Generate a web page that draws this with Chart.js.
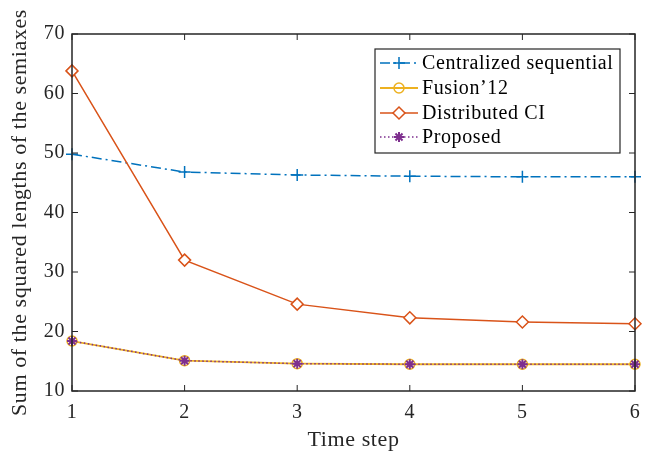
<!DOCTYPE html>
<html>
<head>
<meta charset="utf-8">
<script src="https://cdn.jsdelivr.net/npm/chart.js@4.4.1/dist/chart.umd.min.js"></script>
<style>
  html, body { margin: 0; padding: 0; background: #fff; }
  #wrap { width: 657px; height: 455px; }
</style>
</head>
<body>
<div id="wrap"><canvas id="chart" width="657" height="455"></canvas></div>
<script>
const timeSteps = ['1', '2', '3', '4', '5', '6'];
const yTicks = [10, 20, 30, 40, 50, 60, 70];

const centralized = [49.8, 46.8, 46.3, 46.1, 46.0, 46.0];
const fusion12 = [18.4, 15.1, 14.6, 14.5, 14.5, 14.5];
const distributedCI = [63.8, 32.0, 24.6, 22.3, 21.6, 21.3];
const proposed = [18.4, 15.1, 14.6, 14.5, 14.5, 14.5];

const FONT = "'Liberation Serif', 'Times New Roman', serif";
const AXIS = '#262626';

// wider spacing so the Times-like font fills the space of the original
const spacingPlugin = {
    id: 'spacing',
    beforeDraw(chart) { chart.ctx.letterSpacing = '0.6px'; }
};

// MATLAB-style box with inward ticks
const boxPlugin = {
    id: 'box',
    afterDatasetsDraw(chart) {
        const { ctx, chartArea: a, scales } = chart;
        ctx.save();
        ctx.strokeStyle = AXIS;
        ctx.lineWidth = 1.5;
        ctx.strokeRect(a.left, a.top, a.right - a.left, a.bottom - a.top);
        ctx.lineWidth = 1;
        ctx.beginPath();
        const len = 6;
        timeSteps.forEach((t, i) => {
            const x = scales.x.getPixelForValue(i);
            ctx.moveTo(x, a.bottom); ctx.lineTo(x, a.bottom - len);
            ctx.moveTo(x, a.top); ctx.lineTo(x, a.top + len);
        });
        yTicks.forEach(v => {
            const y = scales.y.getPixelForValue(v);
            ctx.moveTo(a.left, y); ctx.lineTo(a.left + len, y);
            ctx.moveTo(a.right, y); ctx.lineTo(a.right - len, y);
        });
        ctx.stroke();
        ctx.restore();
    }
};

// legend box in upper right, drawn from the dataset styles
const legendPlugin = {
    id: 'boxLegend',
    afterDraw(chart) {
        const { ctx } = chart;
        const left = 375, top = 49, w = 245, h = 104;
        ctx.save();
        ctx.fillStyle = '#fff';
        ctx.fillRect(left, top, w, h);
        ctx.strokeStyle = AXIS;
        ctx.lineWidth = 1.2;
        ctx.strokeRect(left, top, w, h);
        const rows = [63, 88, 113, 137];
        chart.data.datasets.forEach((ds, i) => {
            const y = rows[i];
            ctx.save();
            ctx.strokeStyle = ds.borderColor;
            ctx.lineWidth = ds.borderWidth;
            ctx.setLineDash(ds.borderDash || []);
            ctx.beginPath();
            ctx.moveTo(380, y); ctx.lineTo(418, y);
            ctx.stroke();
            ctx.setLineDash([]);
            ctx.strokeStyle = ds.pointBorderColor;
            ctx.fillStyle = ds.pointBackgroundColor;
            ctx.lineWidth = ds.pointBorderWidth;
            Chart.helpers.drawPoint(ctx, {
                pointStyle: ds.pointStyle, radius: ds.pointRadius, rotation: 0, borderWidth: ds.pointBorderWidth
            }, 399, y);
            ctx.restore();
            ctx.fillStyle = '#000';
            ctx.font = '20px ' + FONT;
            ctx.textBaseline = 'middle';
            ctx.fillText(ds.label, 422, y + 1);
        });
        ctx.restore();
    }
};

new Chart(document.getElementById('chart'), {
    type: 'line',
    data: {
        labels: timeSteps,
        datasets: [
            {
                label: 'Centralized sequential',
                data: centralized,
                borderColor: '#0072BD',
                borderWidth: 1.5,
                borderDash: [10, 4, 2, 4],
                pointStyle: 'cross',
                pointRadius: 6,
                pointBorderColor: '#0072BD',
                pointBackgroundColor: '#0072BD',
                pointBorderWidth: 1.5,
                order: 3
            },
            {
                label: 'Fusion\u201912',
                data: fusion12,
                borderColor: '#EDB120',
                borderWidth: 1.8,
                pointStyle: 'circle',
                pointRadius: 5,
                pointBorderColor: '#EDB120',
                pointBackgroundColor: 'rgba(0,0,0,0)',
                pointBorderWidth: 1.5,
                order: 2
            },
            {
                label: 'Distributed CI',
                data: distributedCI,
                borderColor: '#D95319',
                borderWidth: 1.5,
                pointStyle: 'rectRot',
                pointRadius: 6,
                pointBorderColor: '#D95319',
                pointBackgroundColor: '#fff',
                pointBorderWidth: 1.5,
                order: 1
            },
            {
                label: 'Proposed',
                data: proposed,
                borderColor: '#7E2F8E',
                borderWidth: 1.5,
                borderDash: [1.5, 2.5],
                pointStyle: 'star',
                pointRadius: 5,
                pointBorderColor: '#7E2F8E',
                pointBackgroundColor: '#7E2F8E',
                pointBorderWidth: 2,
                order: 0
            }
        ]
    },
    options: {
        responsive: false,
        animation: false,
        layout: { padding: { left: 0, right: 22, top: 34, bottom: 0 } },
        plugins: {
            legend: { display: false },
            tooltip: { enabled: false }
        },
        elements: { line: { tension: 0 } },
        scales: {
            x: {
                type: 'category',
                offset: false,
                grid: { display: false, drawTicks: false },
                border: { display: false },
                ticks: { color: AXIS, padding: 10, font: { family: FONT, size: 20 }, maxRotation: 0 },
                title: { display: true, text: 'Time step', color: AXIS, font: { family: FONT, size: 22 }, padding: { bottom: 2 } },
                afterFit(scale) { scale.height = 64; }
            },
            y: {
                min: 10,
                max: 70,
                grid: { display: false, drawTicks: false },
                border: { display: false },
                afterBuildTicks(scale) { scale.ticks = yTicks.map(v => ({ value: v })); },
                ticks: { color: AXIS, padding: 7, font: { family: FONT, size: 20 } },
                title: { display: true, text: 'Sum of the squared lengths of the semiaxes', color: AXIS, font: { family: FONT, size: 22 }, padding: { top: 7 } },
                afterFit(scale) { scale.width = 72; }
            }
        }
    },
    plugins: [spacingPlugin, boxPlugin, legendPlugin]
});
</script>
</body>
</html>
